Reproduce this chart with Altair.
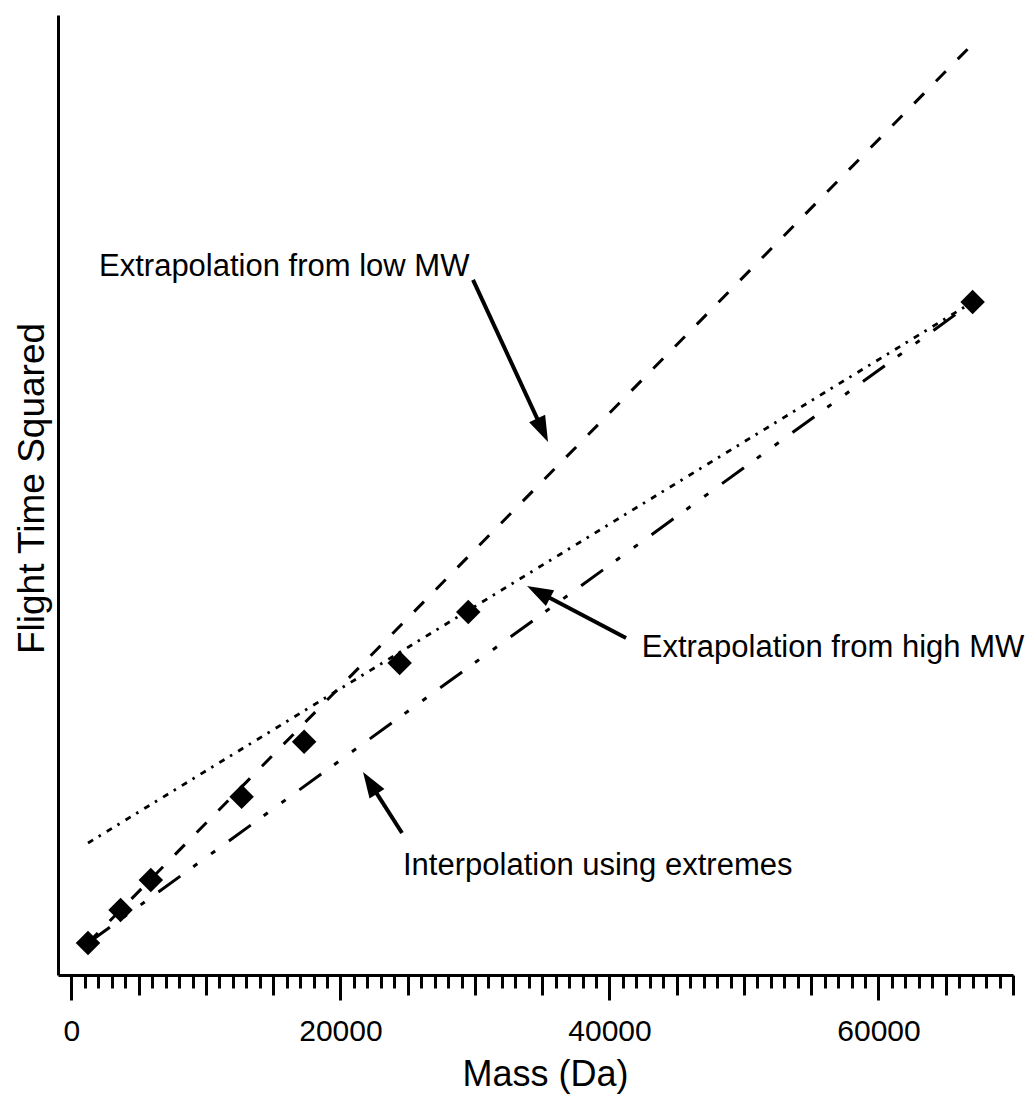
import math
import altair as alt
import pandas as pd

# ---- data (mass in Da, flight time squared in arbitrary units) ----
mass = [1230, 3650, 5900, 12650, 17300, 24400, 29500, 67000]
t2 = [3.33, 6.77, 9.90, 18.57, 24.30, 32.50, 37.81, 70.10]

# calibration lines: start / end
low_x = [1230, 67000]
low_y = [3.33, 96.98]
high_x = [1230, 67000]
high_y = [13.75, 70.10]
interp_x = [1230, 67000]
interp_y = [3.33, 70.10]

# annotations
ann_text = ["Extrapolation from low MW", "Extrapolation from high MW", "Interpolation using extremes"]
ann_x = [2050, 42400, 24650]
ann_y = [72.81, 33.13, 10.42]

arrow_tail_x = [29855, 41231, 24576]
arrow_tail_y = [72.40, 35.10, 14.79]
arrow_tip_x = [35431, 33870, 21677]
arrow_tip_y = [55.52, 40.52, 21.15]

x_ticks = list(range(0, 70001, 1000))
x_domain = [-1000, 70000]
y_domain = [0, 100]

W, H = 955, 960
FONT = "Liberation Sans"

# pixel scale factors (for arrow head orientation)
sx = W / (x_domain[1] - x_domain[0])
sy = H / (y_domain[1] - y_domain[0])

heads = []
shafts = []
for tx, ty, hx, hy in zip(arrow_tail_x, arrow_tail_y, arrow_tip_x, arrow_tip_y):
    dx = (hx - tx) * sx
    dy = -(hy - ty) * sy
    ang = math.degrees(math.atan2(dx, -dy)) % 360
    L = math.hypot(dx, dy)
    back = 12.0 / L
    ex = hx - (hx - tx) * back
    ey = hy - (hy - ty) * back
    heads.append({"x": hx, "y": hy, "angle": ang})
    shafts.append({"x": tx, "y": ty, "x2": ex, "y2": ey})

pts_df = pd.DataFrame({"x": mass, "y": t2})
low_df = pd.DataFrame({"x": low_x, "y": low_y})
high_df = pd.DataFrame({"x": high_x, "y": high_y})
interp_df = pd.DataFrame({"x": interp_x, "y": interp_y})
ann_df = pd.DataFrame({"x": ann_x, "y": ann_y, "text": ann_text})
head_df = pd.DataFrame(heads)
shaft_df = pd.DataFrame(shafts)

x_axis = alt.Axis(
    values=x_ticks,
    format="d",
    labelExpr="datum.value % 20000 === 0 ? datum.label : ''",
    labelOverlap=False,
    labelFlush=False,
    tickSize={
        "condition": [
            {"test": "datum.value % 20000 === 0", "value": 25},
            {"test": "datum.value % 5000 === 0", "value": 20},
        ],
        "value": 13,
    },
    tickWidth=3,
    tickColor="black",
    domainColor="black",
    domainWidth=3,
    labelFont=FONT,
    labelFontSize=30,
    labelColor="black",
    labelPadding=16,
    grid=False,
    title="Mass (Da)",
    titleFont=FONT,
    titleFontSize=36,
    titleFontWeight="normal",
    titleColor="black",
    titleX=487,
    titleY=110,
    titleAlign="center",
    titleBaseline="alphabetic",
)

y_axis = alt.Axis(
    ticks=False,
    labels=False,
    domainColor="black",
    domainWidth=3,
    grid=False,
    title="Flight Time Squared",
    titleFont=FONT,
    titleFontSize=37,
    titleFontWeight="normal",
    titleColor="black",
    titleAngle=270,
    titleX=-15,
    titleY=473,
    titleAlign="center",
    titleBaseline="alphabetic",
)

X = alt.X("x:Q", scale=alt.Scale(domain=x_domain, nice=False, zero=False), axis=x_axis)
Y = alt.Y("y:Q", scale=alt.Scale(domain=y_domain, nice=False, zero=False), axis=y_axis)

low_line = alt.Chart(low_df).mark_line(color="black", strokeWidth=3, strokeDash=[14, 17]).encode(x=X, y=Y)
high_line = alt.Chart(high_df).mark_line(color="black", strokeWidth=2.8, strokeDash=[6, 6.5, 2.5, 7]).encode(x=X, y=Y)
interp_line = alt.Chart(interp_df).mark_line(
    color="black", strokeWidth=3, strokeDash=[27, 16, 5, 17, 5, 17]
).encode(x=X, y=Y)

points = alt.Chart(pts_df).mark_point(
    shape="diamond", filled=True, size=600, color="black", opacity=1
).encode(x=X, y=Y)

shafts_layer = alt.Chart(shaft_df).mark_rule(color="black", strokeWidth=4).encode(
    x=X, y=Y, x2="x2:Q", y2="y2:Q"
)
heads_layer = alt.Chart(head_df).mark_point(
    shape="M0,0L0.34,1L-0.34,1Z", filled=True, size=2700, color="black", opacity=1
).encode(x=X, y=Y, angle=alt.Angle("angle:Q", scale=None))

texts = alt.Chart(ann_df).mark_text(
    align="left", baseline="alphabetic", font=FONT, fontSize=31, color="black"
).encode(x=X, y=Y, text="text:N")

chart = (
    alt.layer(low_line, high_line, interp_line, shafts_layer, heads_layer, points, texts)
    .properties(
        width=W,
        height=H,
        autosize=alt.AutoSizeParams(type="none"),
        padding={"left": 58, "top": 15, "right": 19, "bottom": 124},
        background="white",
    )
    .configure_view(stroke=None)
)

chart.save("out.html", embed_options={"renderer": "svg", "actions": False})
